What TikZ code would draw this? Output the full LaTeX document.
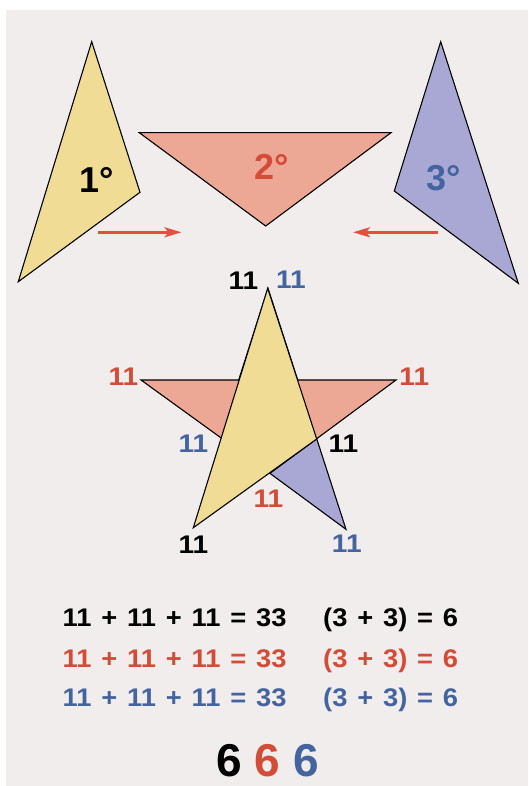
\documentclass[tikz,border=0pt]{standalone}
\usepackage{fontspec}
\setmainfont{Liberation Sans}
\newfontfamily\eqfont[WordSpace=1.3,FakeStretch=1.07]{Liberation Sans}
\newfontfamily\labfont[FakeStretch=1.1]{Liberation Sans}
\usetikzlibrary{arrows.meta}
\definecolor{bgc}{HTML}{F0EDEC}
\definecolor{yel}{HTML}{F0DC94}
\definecolor{pnk}{HTML}{EDA795}
\definecolor{blu}{HTML}{A9A8D4}
\definecolor{redt}{HTML}{D44B37}
\definecolor{blut}{HTML}{44649F}
\definecolor{arr}{HTML}{E2503E}
\begin{document}
\begin{tikzpicture}[x=1pt,y=-1pt,
  tri/.style={draw=black,line width=1.1pt,line join=miter},
  lab/.style={font=\fontsize{25.5}{26}\selectfont\labfont\bfseries,inner sep=0pt},
  deg/.style={font=\fontsize{36}{38}\selectfont\bfseries,inner sep=0pt,anchor=base},
  eq/.style={font=\fontsize{25.5}{26}\selectfont\eqfont\bfseries,inner sep=0pt,anchor=base west},
  big/.style={font=\fontsize{46}{48}\selectfont\bfseries,inner sep=0pt,anchor=base west},
  redarrow/.style={draw=arr,line width=2.8pt,-{Stealth[length=17pt,width=10pt,inset=4pt]}}]
\useasboundingbox (0,0) rectangle (528,786);
\fill[white] (0,0) rectangle (528,786);
\fill[bgc] (6,10) rectangle (528,786);

% top triangles
\filldraw[tri,fill=yel] (91.7,41.7) -- (140,192.3) -- (18.3,281.7) -- cycle;
\filldraw[tri,fill=pnk] (139.3,132.7) -- (391,132.7) -- (265.7,226) -- cycle;
\filldraw[tri,fill=blu] (440.7,41.7) -- (394.3,191) -- (518.3,283.3) -- cycle;
\node[deg] (d1) at (97,192.7) {1°};
\node[deg,text=redt] (d2) at (272,180) {2°};
\node[deg,text=blut] (d3) at (443.5,191) {3°};

% arrows
\coordinate (a1s) at (98,232.3);
\coordinate (a1e) at (181.5,232.3);
\coordinate (a2s) at (437.5,232.3);
\coordinate (a2e) at (353,232.3);
\draw[redarrow] (a1s) -- (a1e);
\draw[redarrow] (a2s) -- (a2e);

% star
\filldraw[tri,fill=blu] (268,288.3) -- (220.5,437) -- (346,529.3) -- cycle;
\filldraw[tri,fill=pnk] (141,380) -- (396,380) -- (270,473.3) -- cycle;
\filldraw[tri,fill=yel] (267.7,288.3) -- (193.3,527.7) -- (316.7,439) -- cycle;

% star labels
\node[lab] (t1) at (243.5,280.8) {11};
\node[lab,text=blut] (t2) at (291,279.7) {11};
\node[lab,text=redt] (l1) at (123.5,377) {11};
\node[lab,text=redt] (r1) at (414.3,377) {11};
\node[lab,text=blut] (li) at (193.5,444) {11};
\node[lab] (ri) at (343.5,444) {11};
\node[lab,text=redt] (bi) at (268.5,499) {11};
\node[lab] (bl) at (193.5,545) {11};
\node[lab,text=blut] (br) at (346.8,543.3) {11};

% equations
\node[eq] (e1) at (62.5,626) {11 + 11 + 11 = 33};
\node[eq] (f1) at (323,626) {(3 + 3) = 6};
\node[eq,text=redt] (e2) at (62.5,667) {11 + 11 + 11 = 33};
\node[eq,text=redt] (f2) at (323,667) {(3 + 3) = 6};
\node[eq,text=blut] (e3) at (62.5,706.5) {11 + 11 + 11 = 33};
\node[eq,text=blut] (f3) at (323,706.5) {(3 + 3) = 6};

\node[big] (s1) at (216,776.7) {6};
\node[big,text=redt] (s2) at (254,776.7) {6};
\node[big,text=blut] (s3) at (293.5,776.7) {6};
\end{tikzpicture}
\end{document}
